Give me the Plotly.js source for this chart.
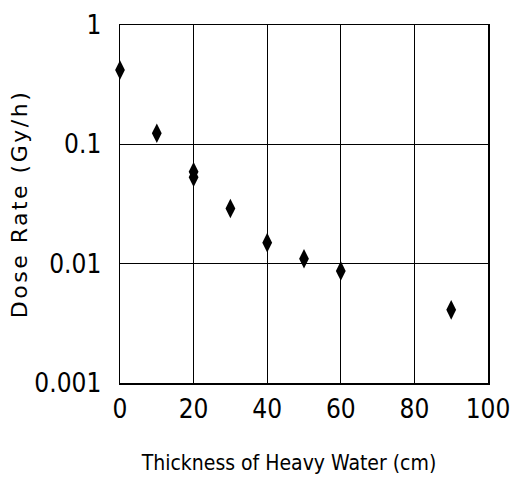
<!DOCTYPE html>
<html>
<head>
<meta charset="utf-8">
<script src="https://cdn.plot.ly/plotly-3.0.1.min.js"></script>
<style>
html,body{margin:0;padding:0;background:#fff;}
#chart .ytitle{letter-spacing:2.5px;}
#chart .xtitle{transform:translateX(-15px);}
</style>
</head>
<body>
<div id="chart" style="width:511px;height:493px;"></div>
<script>
const thickness = [0, 10, 20, 20, 30, 40, 50, 60, 90];
const doseRate = [0.42, 0.124, 0.059, 0.053, 0.029, 0.015, 0.011, 0.0087, 0.0041];
const xTicks = [0, 20, 40, 60, 80, 100];
const yTicks = [0.001, 0.01, 0.1, 1];
const yTickLabels = ['0.001', '0.01', '0.1', '1'];

const trace = {
  x: thickness, y: doseRate, type: 'scatter', mode: 'markers',
  marker: {symbol: 'diamond-tall', size: 14, color: '#000'},
  cliponaxis: false, hoverinfo: 'skip'
};
const condFont = '"DejaVu Sans Condensed", "Liberation Sans Narrow", sans-serif';
const tickFont = {family: condFont, size: 26, color: '#000'};
const layout = {
  width: 511, height: 493,
  margin: {l: 120, r: 23, t: 25, b: 110},
  paper_bgcolor: '#fff', plot_bgcolor: '#fff',
  showlegend: false,
  xaxis: {
    range: [0, 100], tickvals: xTicks, ticktext: xTicks.map(String),
    showgrid: true, gridcolor: '#000', gridwidth: 1.3,
    showline: true, linecolor: '#000', linewidth: 1.5, mirror: true,
    ticks: '', zeroline: false, tickfont: tickFont, ticklabelstandoff: 2,
    title: {text: 'Thickness of Heavy Water (cm)', standoff: 32,
      font: {family: condFont, size: 21, color: '#000'}}
  },
  yaxis: {
    type: 'log', range: [-3, 0], tickvals: yTicks, ticktext: yTickLabels,
    showgrid: true, gridcolor: '#000', gridwidth: 1.3,
    showline: true, linecolor: '#000', linewidth: 1.5, mirror: true,
    ticks: '', zeroline: false, tickfont: tickFont, ticklabelstandoff: 12,
    title: {text: 'Dose Rate (Gy/h)', standoff: 0,
      font: {family: '"DejaVu Sans", sans-serif', size: 22, color: '#000'}}
  }
};
Plotly.newPlot('chart', [trace], layout, {displayModeBar: false, staticPlot: true});
</script>
</body>
</html>
